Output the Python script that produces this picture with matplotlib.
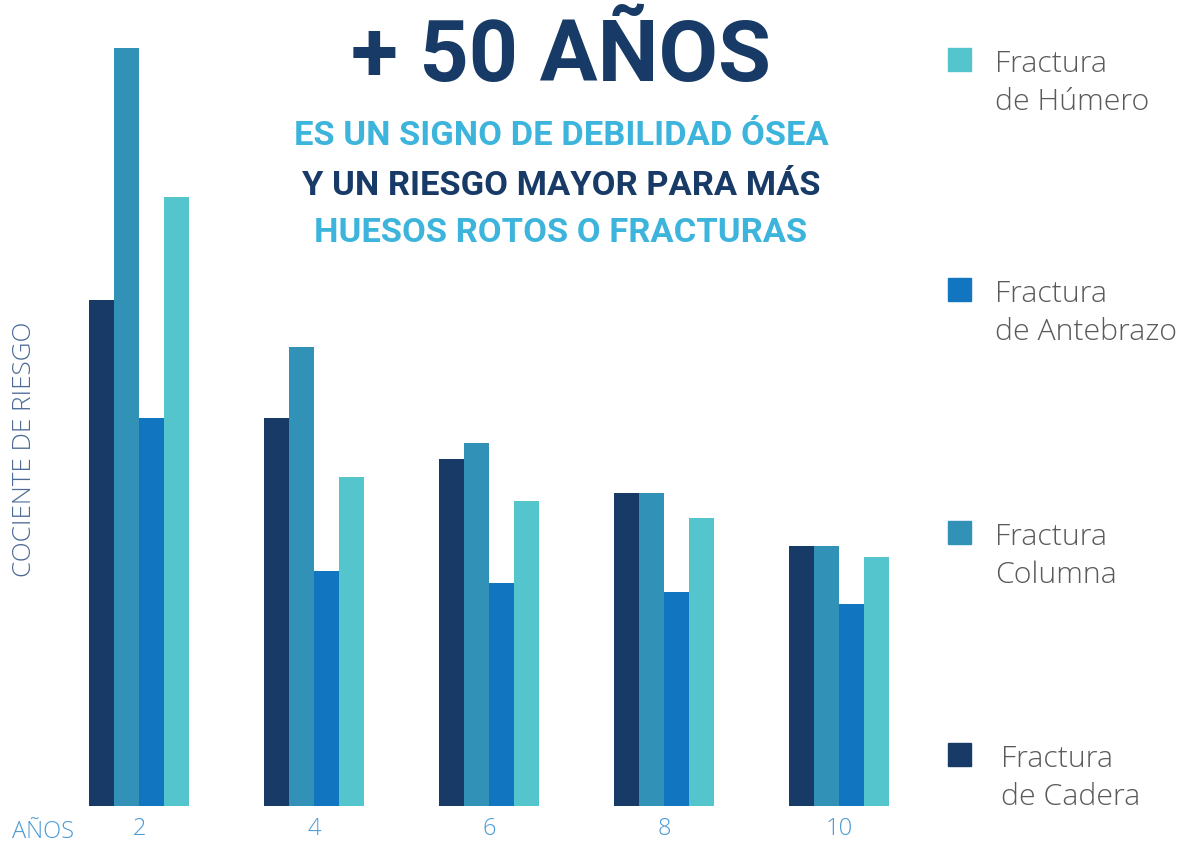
import matplotlib.pyplot as plt
import numpy as np

# years after fracture and relative risk (arbitrary units)
years = [2, 4, 6, 8, 10]
cadera = [5.06, 3.88, 3.47, 3.13, 2.60]
columna = [7.58, 4.59, 3.63, 3.13, 2.60]
antebrazo = [3.88, 2.35, 2.23, 2.14, 2.02]
humero = [6.09, 3.29, 3.05, 2.88, 2.49]

series = [
    (cadera, "#183a66"),
    (columna, "#3191b7"),
    (antebrazo, "#1275bf"),
    (humero, "#55c5cd"),
]
# label, colour, square y (px from top), text x (px)
legend_items = [
    ("Fractura\nde Húmero", "#55c5cd", 60, 995),
    ("Fractura\nde Antebrazo", "#1275bf", 290, 995),
    ("Fractura\nColumna", "#3191b7", 533, 995),
    ("Fractura\nde Cadera", "#183a66", 755, 1001),
]

W, H = 1182, 850
fig = plt.figure(figsize=(W / 100, H / 100), dpi=100)
ax = fig.add_axes([59 / W, (H - 806) / H, 860 / W, 786 / H])

width = 0.2857
x = np.array(years, dtype=float)
for i, (vals, col) in enumerate(series):
    ax.bar(x + (i - 1.5) * width, vals, width=width, color=col, linewidth=0)

ax.set_xlim(2 - 80 / 87.5, 10 + 80 / 87.5)
ax.set_ylim(0, 7.86)
for s in ax.spines.values():
    s.set_visible(False)
ax.set_yticks([])
ax.set_xticks(years)
ax.set_xticklabels([str(y) for y in years], fontsize=17, color="#4a9ad4",
                   family="Open Sans", fontweight="light")
ax.tick_params(axis="x", length=0, pad=8)

fig.text(12 / W, 1 - 832 / H, "AÑOS", fontsize=17, color="#4a9ad4",
         family="Open Sans", fontweight="light", va="center", ha="left")
fig.text(25 / W, 1 - 449 / H, "COCIENTE DE RIESGO", fontsize=18.8,
         color="#4a6a96", family="Open Sans", fontweight="light", rotation=90,
         va="center", ha="center")

# headline
fig.text(561 / W, 1 - 57 / H, "+ 50 AÑOS", fontsize=62, fontweight="bold",
         color="#183a66", family="Roboto", ha="center", va="center")
sub = [("ES UN SIGNO DE DEBILIDAD ÓSEA", "#3db4dc", 136),
       ("Y UN RIESGO MAYOR PARA MÁS", "#183a66", 186),
       ("HUESOS ROTOS O FRACTURAS", "#3db4dc", 233)]
for txt, col, yy in sub:
    fig.text(561 / W, 1 - yy / H, txt, fontsize=24.8, fontweight="bold",
             color=col, family="Roboto", ha="center", va="center")

# legend drawn by hand, spread down the right side
for label, col, yy, tx in legend_items:
    fig.patches.append(plt.Rectangle((948 / W, 1 - (yy + 11) / H), 23 / W, 23 / H,
                                     transform=fig.transFigure, color=col))
    fig.text(tx / W, 1 - (yy + 23.5) / H, label, fontsize=21.8, color="#5a5a5a",
             family="Open Sans", fontweight="light", va="center", ha="left",
             linespacing=1.37)

fig.savefig("out.png", dpi=100, facecolor="white")
